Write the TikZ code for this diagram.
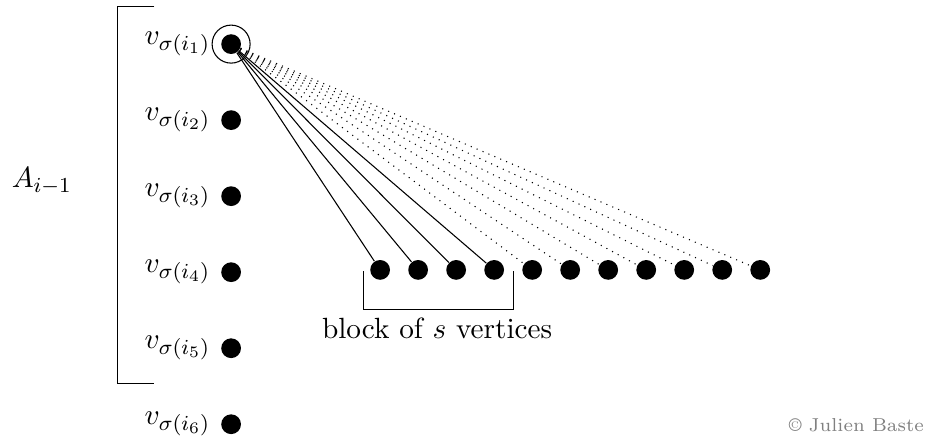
\documentclass[11pt,tikz,border=0pt]{standalone}
\begin{document}
\begin{tikzpicture}[x=1cm,y=1cm,
		vertex/.style={circle,fill=black,inner sep=0pt,minimum size=0.26cm}]
		\useasboundingbox (0,0) rectangle (12.22,-5.76);
		% ordered vertices
			\foreach \k in {1,...,6}{
				\node[vertex,label={left:$v_{\sigma(i_{\k})}$}] (v\k) at (3.04,0.42-\k) {};
				}
			\draw (v1) circle (0.25);
		% the set A_{i-1}
			\draw (2.03,-0.09) -- (1.54,-0.09) -- (1.54,-5.05) -- (2.03,-5.05);
			\node (A) at (0.55,-2.38) {$A_{i-1}$};
		% row of vertices
			\foreach \j in {1,...,11}{
				\node[vertex] (w\j) at (4.5+0.5*\j,-3.55) {};
				}
			\foreach \j in {1,...,4}{
				\draw (v1) -- (w\j);
				}
			\foreach \j in {5,...,11}{
				\draw[dotted] (v1) -- (w\j);
				}
		% block
			\draw (4.78,-3.57) -- (4.78,-4.07) -- (6.76,-4.07) -- (6.76,-3.57);
			\node[below] (blk) at (5.75,-4.05) {block of $s$ vertices};
			\node[gray,font=\fontsize{7}{8}\selectfont,anchor=east,inner sep=0pt] (copy) at (12.16,-5.59) {\copyright{} Julien Baste};
	\end{tikzpicture}
\end{document}
